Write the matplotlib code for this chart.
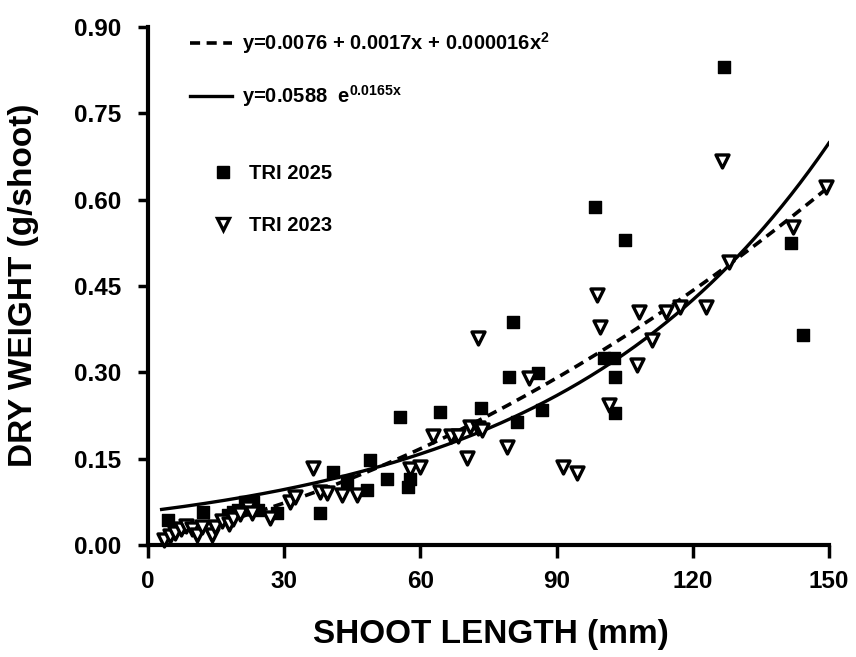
import numpy as np
import matplotlib
matplotlib.use("Agg")
import matplotlib.pyplot as plt
from matplotlib.lines import Line2D

plt.rcParams['font.family'] = ['Liberation Sans', 'DejaVu Sans']
plt.rcParams['font.weight'] = 'bold'
plt.rcParams['mathtext.fontset'] = 'custom'
plt.rcParams['mathtext.rm'] = 'Liberation Sans:bold'
plt.rcParams['mathtext.it'] = 'Liberation Sans:bold'
plt.rcParams['mathtext.bf'] = 'Liberation Sans:bold'

# ---- data ----
tri2025_x = [4.4, 12.1, 17.6, 18.7, 19.8, 21.4, 23.1, 24.2, 28.4, 37.9, 40.7, 43.8,
             48.2, 48.9, 52.6, 55.5, 57.3, 57.7, 64.3, 73.3, 79.5, 80.4, 81.3, 85.9,
             86.8, 98.5, 100.4, 102.6, 102.9, 102.9, 105.1, 126.9, 141.6, 144.3]
tri2025_y = [0.043, 0.057, 0.052, 0.057, 0.061, 0.075, 0.075, 0.061, 0.056, 0.056, 0.127, 0.111,
             0.096, 0.148, 0.115, 0.222, 0.101, 0.115, 0.231, 0.238, 0.292, 0.387, 0.214, 0.299,
             0.235, 0.587, 0.325, 0.325, 0.292, 0.229, 0.530, 0.830, 0.525, 0.365]

tri2023_x = [3.5, 4.8, 5.9, 7.3, 8.4, 9.7, 10.8, 11.9, 14.1, 14.8, 16.3, 17.8, 18.7,
             20.3, 22.0, 22.9, 26.9, 31.3, 32.4, 36.3, 37.9, 39.4, 42.7, 46.0, 57.7,
             59.9, 62.8, 66.7, 68.3, 70.9, 70.3, 72.7, 73.6, 72.7, 79.1, 83.9, 91.4,
             94.5, 98.9, 99.6, 101.5, 107.7, 108.1, 111.0, 114.1, 117.2, 122.9, 128.0,
             126.4, 142.1, 149.3]
tri2023_y = [0.009, 0.016, 0.021, 0.028, 0.033, 0.028, 0.017, 0.031, 0.017, 0.031, 0.042, 0.036, 0.045,
             0.054, 0.064, 0.056, 0.047, 0.075, 0.083, 0.134, 0.092, 0.090, 0.087, 0.087, 0.132,
             0.136, 0.189, 0.189, 0.189, 0.205, 0.151, 0.203, 0.200, 0.360, 0.170, 0.290, 0.136,
             0.125, 0.434, 0.379, 0.243, 0.313, 0.405, 0.356, 0.405, 0.414, 0.414, 0.492,
             0.668, 0.553, 0.622]

# fitted curves
quad_coef = [0.0076, 0.0017, 0.000016]
exp_coef = [0.0588, 0.0165]
fit_x_range = [3.0, 150.0]

x_ticks = [0, 30, 60, 90, 120, 150]
y_ticks = [0.00, 0.15, 0.30, 0.45, 0.60, 0.75, 0.90]

quad_label = r'y=0.0076 + 0.0017x + 0.000016x$^{2}$'
exp_label = r'y=0.0588  e$^{0.0165x}$'

# ---- figure ----
W, H = 856, 657
fig = plt.figure(figsize=(W / 100, H / 100), dpi=100)
ax = fig.add_axes([148 / W, 1 - 545 / H, (829 - 148) / W, (545 - 27) / H])

DASH = (2.8, 1.8)
xs = np.linspace(fit_x_range[0], fit_x_range[1], 300)
yq = quad_coef[0] + quad_coef[1] * xs + quad_coef[2] * xs ** 2
ye = exp_coef[0] * np.exp(exp_coef[1] * xs)
ax.plot(xs, yq, color='black', lw=2.6, dashes=DASH, zorder=2)
ax.plot(xs, ye, color='black', lw=2.4, zorder=2)

ax.scatter(tri2025_x, tri2025_y, marker='s', s=78, color='black', zorder=3, clip_on=False)
ax.scatter(tri2023_x, tri2023_y, marker='v', s=88, facecolor='white', edgecolor='black',
           linewidths=2.4, zorder=4, clip_on=False)

ax.set_xlim(0, 150)
ax.set_ylim(0, 0.90)
ax.set_xticks(x_ticks)
ax.set_yticks(y_ticks)
ax.set_xticklabels([str(v) for v in x_ticks])
ax.set_yticklabels(['%.2f' % v for v in y_ticks])
for s in ['top', 'right']:
    ax.spines[s].set_visible(False)
for s in ['left', 'bottom']:
    ax.spines[s].set_linewidth(3)
ax.tick_params(axis='x', direction='out', length=9, width=2.5, pad=9, labelsize=17.5)
ax.tick_params(axis='y', direction='out', length=7, width=2.5, pad=12, labelsize=17.5)

fig.text(491 / W, 1 - 634 / H, 'SHOOT LENGTH (mm)', ha='center', va='center',
         fontsize=24, fontweight='bold')
fig.text(24 / W, 1 - 285 / H, 'DRY WEIGHT (g/shoot)', ha='center', va='center',
         rotation=90, fontsize=24, fontweight='bold')

# legends
FS = 14.5
h1 = [Line2D([], [], color='black', lw=2.6, dashes=DASH),
      Line2D([], [], color='black', lw=2.4)]
leg1 = fig.legend(h1, [quad_label, exp_label], loc='upper left',
                  bbox_to_anchor=(190 / W, 1 - 30 / H), frameon=False,
                  fontsize=FS, handlelength=2.1, handletextpad=0.5,
                  labelspacing=1.35, borderpad=0, borderaxespad=0)
h2 = [Line2D([], [], marker='s', ls='none', color='black', markersize=9),
      Line2D([], [], marker='v', ls='none', markerfacecolor='white', markeredgecolor='black',
             markeredgewidth=2.4, markersize=9)]
leg2 = fig.legend(h2, ['TRI 2025', 'TRI 2023'], loc='upper left',
                  bbox_to_anchor=(213 / W, 1 - 164 / H), frameon=False,
                  fontsize=FS, handlelength=1.0, handletextpad=0.8,
                  labelspacing=1.65, borderpad=0, borderaxespad=0)

fig.savefig('out.png', dpi=100)
